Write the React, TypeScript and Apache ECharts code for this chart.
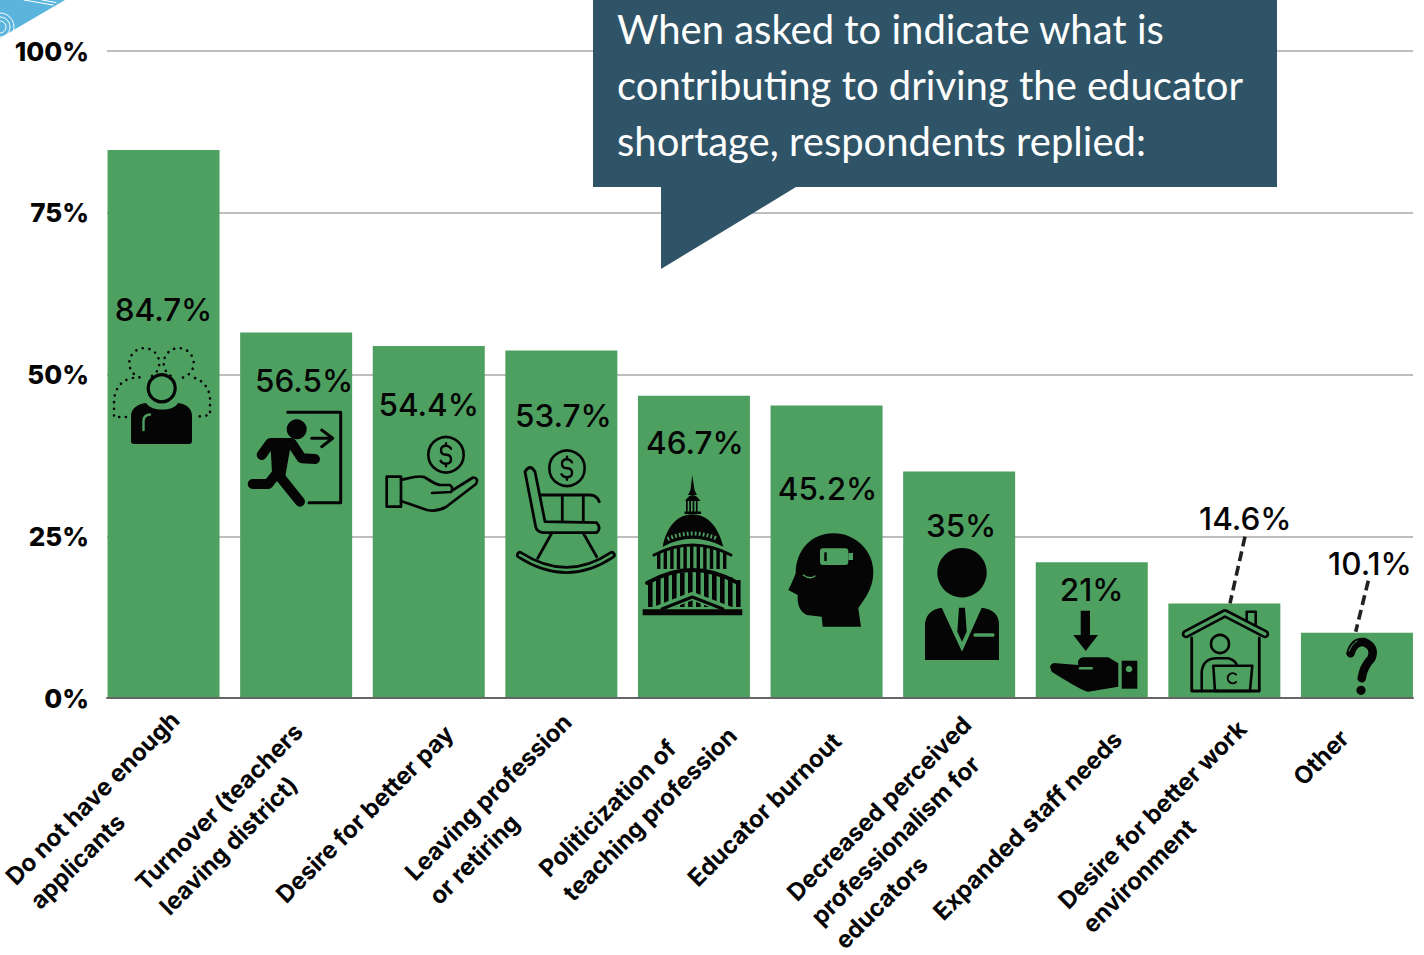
import React, { useEffect, useRef } from "react";
import * as echarts from "echarts";

// Survey results
const categories = [
  "Do not have enough\napplicants",
  "Turnover (teachers\nleaving district)",
  "Desire for better pay",
  "Leaving profession\nor retiring",
  "Politicization of\nteaching profession",
  "Educator burnout",
  "Decreased perceived\nprofessionalism for\neducators",
  "Expanded staff needs",
  "Desire for better work\nenvironment",
  "Other",
];
const shares = [84.7, 56.5, 54.4, 53.7, 46.7, 45.2, 35, 21, 14.6, 10.1];
const calloutText = "When asked to indicate what is\ncontributing to driving the educator\nshortage, respondents replied:";

// Layout tables
const valueLabelDrop = [160, 49, 59, 65, 47, 83, 54, 28, -85, -69];
const valueLabelShift = [0, 8, 0, 2, 1, 1, 2, 0, 21, 13];
const axisLabelCentre = [
  [-59, 112], [-65, 121], [-64, 116], [-61, 111], [-56, 104],
  [-62, 111.5], [-56, 134.5], [-64, 127.5], [-60, 128.5], [-36, 59.5],
];

const GREEN = "#4ea061";
const INK = "#050505";
const NAVY = "#2f5468";
const SANS = "Inter, 'Noto Sans', sans-serif";

let shapeCount = 0;
function path(d: string, style: Record<string, unknown>) {
  const name = "icon" + shapeCount++;
  echarts.graphic.registerShape(name, echarts.graphic.extendPath(d, {}));
  return { type: name, z: 10, style };
}
const fill = (d: string, color = INK) => path(d, { fill: color, stroke: null });
const line = (d: string, lineWidth = 3, stroke = INK) =>
  path(d, { fill: "none", stroke, lineWidth, lineCap: "round", lineJoin: "round" });
const dotted = (d: string) =>
  path(d, { fill: "none", stroke: INK, lineWidth: 2.6, lineCap: "round", lineDash: [0.1, 6.6] });
const disc = (cx: number, cy: number, r: number, color = INK) => ({
  type: "circle", z: 10, shape: { cx, cy, r }, style: { fill: color },
});
const ringLine = (cx: number, cy: number, r: number, lineWidth: number, stroke = INK) => ({
  type: "circle", z: 10, shape: { cx, cy, r }, style: { fill: "none", stroke, lineWidth },
});

function columns(x0: number, x1: number, step: number, w: number, top: (x: number) => number, bottom: number) {
  let d = "";
  for (let x = x0; x <= x1; x += step) {
    d += `M${x},${top(x)}L${x + w},${top(x)}L${x + w},${bottom}L${x},${bottom}Z`;
  }
  return d;
}

function dollar(cx: number, cy: number) {
  return line(
    `M${cx + 5},${cy - 6}Q${cx + 3},${cy - 9} ${cx},${cy - 9}Q${cx - 5},${cy - 9} ${cx - 5},${cy - 4.5}` +
      `Q${cx - 5},${cy} ${cx},${cy}Q${cx + 5},${cy} ${cx + 5},${cy + 4.5}Q${cx + 5},${cy + 9} ${cx},${cy + 9}` +
      `Q${cx - 4},${cy + 9} ${cx - 5.5},${cy + 6}M${cx},${cy - 11.5}L${cx},${cy - 9}M${cx},${cy + 9}L${cx},${cy + 11.5}`,
    2.4,
  );
}

function buildDecor() {
  return [
    // corner ornament
    { type: "polygon", z: 10, shape: { points: [[0, 0], [65, 0], [0, 38]] }, style: { fill: "#5ab4dc" } },
    ringLine(0, 27, 6, 1, "#fff"),
    ringLine(0, 27, 10, 1, "#fff"),
    ringLine(0, 27, 14, 1, "#fff"),
    line("M24,0L53,5M42,0L56,2.5", 1, "#fff"),

    // callout
    {
      type: "polygon", z: 10,
      shape: { points: [[593, -2], [1277, -2], [1277, 187], [796, 187], [661, 269], [661, 187], [593, 187]] },
      style: { fill: NAVY },
    },
    {
      type: "text", z: 11, x: 617, y: 1,
      style: { text: calloutText, fill: "#fff", font: "400 40px Lato, sans-serif", lineHeight: 56 },
    },

    // leaders for the two short bars
    path("M1245,536.7L1230,603.3", { fill: "none", stroke: "#222", lineWidth: 3.6, lineDash: [10, 5] }),
    path("M1368.3,580.7L1355.7,631.7", { fill: "none", stroke: "#222", lineWidth: 3.6, lineDash: [10, 5] }),

    // applicants
    ringLine(161.7, 388.3, 13.5, 3.2),
    fill("M131,416C131,408 138,404 146,403C150,408 155,409.5 162,409.5C169,409.5 175,408 178,403C186,404 192,408 192,416L192,441Q192,444 189,444L134,444Q131,444 131,441Z"),
    line("M143.5,430L143.5,421Q143.5,415 150,414.5", 2.4, GREEN),
    dotted("M152,376A15,15 0 1 0 140,377.5"),
    dotted("M183,377.5A15,15 0 1 0 171,376"),
    dotted("M133,378C120,380 115,390 114,400L114,417L126,417"),
    dotted("M195,378C205,382 210,390 210,400L210,415L195,417"),

    // runner and door
    line("M287.7,412.3L340.7,412.3L340.7,502.7L309,502.7", 3),
    line("M311.7,438.3L332.7,438.3M321.7,430L332.7,438.3L321.7,446.7", 3),
    disc(296.7, 429.3, 10),
    fill("M270,438L292,438L285,478L272,472Z"),
    line("M261.7,455L270,443.3L291.7,443.3L301.7,458.3L315,459", 10),
    line("M277,473L268.3,484L252.7,484", 10),
    line("M277,473L300,501.7", 10),

    // hand and coin
    ringLine(446, 454.7, 17.7, 2.6),
    dollar(446, 454.7),
    line("M386.7,476.7L401,476.7L401,506.7L386.7,506.7Z", 2.7),
    line("M401,480C410,478 418,475 424,477C430,480 435,485 441,485L450,485Q454,488 451,492L432,493", 2.7),
    line("M401,501L427,510Q437,512 446,507L476,484Q479,478 473,477.5L453,490", 2.7),

    // rocking chair
    ringLine(567, 468.3, 17.7, 2.6),
    dollar(567, 468.3),
    line("M525,471.7Q530,463.3 535,471.7L545,521.7L596.7,522.7Q601.7,528.3 596.7,532.7L543.3,532.7Q536.7,531.7 535.7,526.7Z", 2.8),
    line("M540,495L590,495Q596.7,495 599.3,501.7M562.3,495L562.3,521.7M583.3,495L583.3,521.7", 2.8),
    line("M551.7,533.3L537.7,558.3M583.3,533.3L596.7,556.7", 2.8),
    line("M520,555Q567,585 611.7,555", 8),
    line("M520,555Q567,585 611.7,555", 2.6, GREEN),

    // capitol
    fill("M692.3,475L694.5,490L697,495L688,495L690.5,490Z"),
    fill("M685,501Q692.5,489 700.5,501Z"),
    fill(columns(686, 698, 3.3, 1.7, () => 501, 512)),
    fill("M684.5,511.5L701,511.5L701,514L684.5,514Z"),
    fill("M662.7,546.7C666.7,526.7 676.7,515 692.3,514.3C708.3,515 718.3,526.7 723.3,546.7Q692.5,531 662.7,546.7Z"),
    path("M667.5,539Q692.5,528 718,539", { fill: "none", stroke: GREEN, lineWidth: 4, lineDash: [1.8, 2.2] }),
    line("M654,555Q692.5,535 731,555", 3),
    fill(columns(657, 728, 6.6, 3.4, (x) => 553 - 7 * (1 - ((x - 692) / 36) ** 2), 569)),
    line("M647,583Q692.5,557 738,583", 3.8),
    fill(columns(648, 736, 8, 4.6, (x) => 580 - 8 * (1 - ((x - 692) / 44) ** 2), 607)),
    line("M654,611L692.3,596L731,611", 8, GREEN),
    line("M662,609L692.3,597L723,609", 3),
    fill("M642.7,609.3L742.3,609.3L742.3,615.3L642.7,615.3Z"),

    // burnt-out head
    fill("M861,626.7L822.7,626.7L821.7,616.7L806.7,615Q796.7,610 797.7,595L788.3,590Q793.3,580 795.7,573.3C795.7,550 811.7,533.3 833.3,533.3C856.7,533.3 873.3,551.7 873.3,571.7C873.3,590 863.3,600 858.3,608.3Z"),
    { type: "rect", z: 10, shape: { x: 820, y: 548.3, width: 28.3, height: 16.7, r: 3 }, style: { fill: GREEN } },
    { type: "rect", z: 10, shape: { x: 848.3, y: 553, width: 4.7, height: 7 }, style: { fill: GREEN } },
    { type: "rect", z: 10, shape: { x: 824.3, y: 552.3, width: 2.4, height: 8.7 }, style: { fill: INK } },
    line("M803.3,575Q810,580 815,576", 1.4, GREEN),

    // suited figure
    disc(962, 572.7, 24.7),
    fill("M925,660L925,623.3Q926.7,610 941.7,607.7L962,651.7L981.7,607.7Q998.3,610 999,623.3L999,660Z"),
    fill("M959,607.7L965,607.7L966.7,631.7L962,641.7L957.3,631.7Z"),
    line("M975,635L993,635", 3.4, GREEN),

    // arrow into open hand
    fill("M1080.7,610.7L1090,610.7L1090,635L1098,635L1085.7,651L1073.3,635L1080.7,635Z"),
    fill("M1050,666.7Q1051.7,662.3 1056.7,663.3L1078.3,665Q1076.7,658.3 1083.3,657.3L1108.3,657.3L1118.3,663.3L1118.3,686.7L1088.3,691.7Q1083.3,691.7 1051.7,671.7Z"),
    line("M1080,668.3L1091.7,668.3", 2.4, GREEN),
    fill("M1121.7,660.7L1137.3,660.7L1137.3,688.7L1121.7,688.7Z"),
    disc(1129, 669, 3.3, GREEN),

    // working from home
    line("M1186,634L1225,613.3L1265,634", 8.5),
    line("M1186,634L1225,613.3L1265,634", 3.2, GREEN),
    line("M1246.7,620L1246.7,611.7L1255.7,611.7L1255.7,624.5", 2.6),
    line("M1191.7,638L1191.7,691L1259.3,691L1259.3,638", 2.8),
    ringLine(1220, 644, 9, 2.6),
    line("M1201.7,691L1201.7,671.7Q1203.3,658.3 1216.7,658.3L1228.3,658.3Q1235,660 1236.7,665", 2.6),
    line("M1213.3,665.7L1252.3,665.7L1250,691L1215,691Z", 2.6),
    line("M1236,674.5A5,5 0 1 0 1236,682", 2),

    // question mark
    line("M1350.5,653.3Q1354,641 1364,642Q1376,646.7 1371.5,658.3Q1363.3,666.7 1361.7,678.3", 8.5),
    line("M1349,651Q1352,644 1357,641", 1, GREEN),
    disc(1361, 690.3, 4.6),
  ];
}

function axisCategoryItem(value: string, i: number) {
  const margin = 10;
  const [dx, dy] = axisLabelCentre[i];
  const along = (dy - margin - dx) * Math.SQRT1_2; // towards the label's start
  const across = (dy - margin + dx) * Math.SQRT1_2; // towards its underside
  return {
    value,
    textStyle: {
      align: "center",
      verticalAlign: "middle",
      padding: [
        Math.max(across, 0) * 2,
        Math.max(along, 0) * 2,
        Math.max(-across, 0) * 2,
        Math.max(-along, 0) * 2,
      ],
    },
  };
}

export default function App() {
  const ref = useRef<HTMLDivElement>(null);
  useEffect(() => {
    const chart = echarts.init(ref.current!, null, { renderer: "svg" });
    chart.setOption({
      animation: false,
      backgroundColor: "#fff",
      grid: [
        { left: 107, width: 1306, top: 51, height: 647, outerBoundsMode: "none" },
        { left: 97.25, width: 1326, top: 51, height: 647, outerBoundsMode: "none" },
      ],
      xAxis: [
        {
          type: "value", gridIndex: 0, min: 0, max: 1,
          axisLabel: { show: false }, axisTick: { show: false }, splitLine: { show: false },
          axisLine: { show: true, lineStyle: { color: "#666", width: 2 } }, z: 5,
        },
        {
          type: "category", gridIndex: 1, data: categories.map(axisCategoryItem),
          axisLine: { show: false }, axisTick: { show: false },
          axisLabel: {
            interval: 0, rotate: 45, margin: 10, hideOverlap: false,
            formatter: (v: string) => v.split("\n").map((l) => `{l|${l}}`).join("\n"),
            rich: { l: { align: "left", color: INK, fontFamily: SANS, fontWeight: 700, fontSize: 24, lineHeight: 34 } },
          },
        },
      ],
      yAxis: [
        {
          type: "value", gridIndex: 0, min: 0, max: 100, interval: 25,
          axisLine: { show: false }, axisTick: { show: false },
          splitLine: { lineStyle: { color: "#bdbdbd", width: 2 } },
          axisLabel: {
            formatter: "{value}%", margin: 18, padding: [4, 0, 0, 0],
            color: INK, fontFamily: SANS, fontWeight: 800, fontSize: 26,
          },
        },
        { type: "value", gridIndex: 1, min: 0, max: 100, show: false },
      ],
      series: [
        {
          type: "bar", xAxisIndex: 1, yAxisIndex: 1, barWidth: 112,
          itemStyle: { color: GREEN },
          data: shares.map((value, i) => ({
            value,
            label: { offset: [valueLabelShift[i], valueLabelDrop[i] - 21.5] },
          })),
          label: {
            show: true, position: "insideTop", formatter: "{c}%",
            color: INK, fontFamily: SANS, fontWeight: 500, fontSize: 31.5,
          },
        },
      ],
      graphic: { elements: buildDecor() },
    });
    return () => chart.dispose();
  }, []);
  return (
    <div
      ref={ref}
      style={{ position: "fixed", left: 0, top: 0, width: 1424, height: 955, fontVariantLigatures: "none" }}
    />
  );
}
